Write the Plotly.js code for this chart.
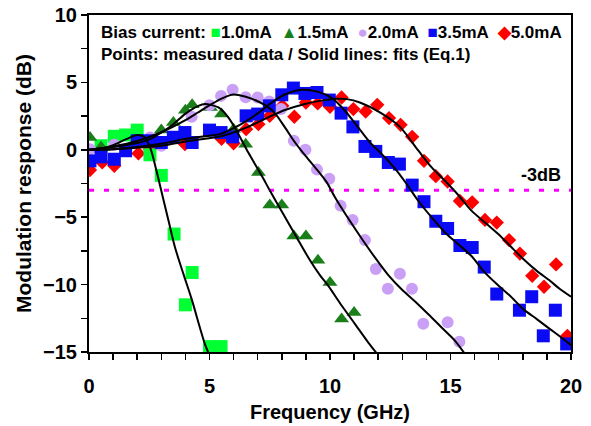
<!DOCTYPE html>
<html>
<head>
<meta charset="utf-8">
<script src="https://cdn.plot.ly/plotly-3.0.1.min.js"></script>
<style>html,body{margin:0;padding:0;background:#fff;}</style>
</head>
<body>
<div id="chart" style="width:591px;height:426px;"></div>
<script>
// ---- measured data (points) ----
const x10 = [0.5, 1.05, 1.52, 2.0, 2.53, 3.0, 3.53, 4.0, 4.28, 5.0, 5.48];
const y10 = [0.3, 1.0, 1.1, 1.46, -0.37, -1.9, -6.25, -11.5, -9.1, -14.6, -14.6];

const x15 = [0.04, 0.5, 3.0, 3.5, 4.0, 4.28, 5.04, 5.5, 6.0, 6.5, 7.03, 7.5, 8.0, 8.5, 9.0, 9.5, 10.0, 10.48, 11.0];
const y15 = [0.91, 0.2, 1.46, 2.03, 2.94, 3.34, 3.14, 2.65, 1.53, 0.42, -1.68, -4.1, -4.1, -6.4, -6.4, -8.2, -9.84, -12.56, -12.07];

const x20 = [0.04, 1.05, 2.53, 3.0, 4.26, 5.0, 5.48, 5.96, 6.5, 7.0, 7.48, 7.97, 8.5, 8.98, 9.46, 9.97, 10.44, 10.94, 11.45, 11.9, 12.4, 12.9, 13.4, 13.87, 14.88, 15.37];
const y20 = [0.05, 0.37, 0.91, 0.3, 2.45, 3.3, 4.0, 4.45, 3.9, 3.88, 3.58, 3.02, 0.67, 0.0, -1.47, -2.15, -4.15, -5.2, -6.7, -8.85, -10.3, -9.2, -10.3, -12.9, -12.8, -14.24];

const x35 = [0.04, 0.5, 1.05, 1.52, 2.0, 2.5, 3.0, 3.5, 3.98, 4.28, 5.0, 5.48, 5.96, 6.52, 7.0, 7.48, 8.0, 8.48, 8.96, 9.46, 9.97, 10.46, 10.95, 11.45, 11.9, 12.42, 12.88, 13.41, 13.9, 14.39, 14.88, 15.39, 15.9, 16.4, 16.92, 17.86, 18.37, 18.85, 19.35, 19.82];
const y35 = [-0.82, -0.52, -0.7, -0.07, 0.67, 0.67, 0.54, 0.93, 1.28, 0.54, 1.46, 1.28, 0.96, 2.52, 2.65, 3.26, 4.08, 4.58, 4.18, 4.25, 3.69, 2.72, 1.7, 0.25, -0.12, -0.94, -1.06, -2.62, -3.85, -5.3, -5.84, -7.1, -7.25, -8.7, -10.7, -11.9, -10.9, -13.8, -11.9, -14.4];

const x50 = [0.04, 0.55, 1.05, 2.05, 2.53, 3.98, 5.5, 6.0, 6.52, 7.03, 7.5, 8.02, 8.52, 9.0, 9.49, 10.0, 10.48, 10.97, 11.48, 11.96, 12.45, 12.93, 13.41, 13.9, 14.39, 14.88, 15.39, 15.9, 16.43, 16.92, 17.43, 17.88, 18.39, 18.88, 19.38, 19.85];
const y50 = [-1.5, -0.94, -1.19, -0.27, 0.05, 0.42, 0.82, 0.48, 1.53, 1.9, 2.52, 3.26, 2.45, 3.51, 3.44, 3.19, 3.88, 3.02, 2.84, 3.34, 2.35, 1.85, 0.96, -0.82, -1.96, -2.35, -3.8, -3.9, -5.2, -5.4, -6.7, -7.7, -9.35, -10.16, -8.5, -13.8];

// ---- fit curves ----
const fx10 = [0, 0.5, 1.0, 1.5, 2.0, 2.3, 2.55, 2.8, 3.0, 3.3, 3.57, 3.92, 4.26, 4.6, 4.81, 4.95];
const fy10 = [0, 0.1, 0.35, 0.75, 1.1, 0.95, 0.1, -1.56, -3.04, -5.27, -7.25, -9.22, -11.08, -13.18, -14.41, -15.04];

const fx15 = [0, 1.0, 2.0, 2.53, 3.0, 3.5, 3.98, 4.54, 4.81, 5.37, 5.78, 6.2, 6.61, 7.17, 7.51, 8.06, 8.62, 9.17, 9.58, 9.93, 10.49, 11.04, 11.59, 11.94];
const fy15 = [0, 0.2, 0.5, 0.79, 1.28, 1.9, 2.65, 3.26, 3.39, 3.14, 2.4, 1.16, -0.2, -1.93, -3.04, -4.77, -6.5, -8.2, -9.3, -10.1, -11.57, -12.93, -14.3, -15.1];

const fx20 = [0, 1.0, 2.0, 3.0, 4.0, 4.5, 5.0, 5.5, 6.0, 6.47, 7.0, 7.4, 7.72, 8.13, 8.55, 8.96, 9.38, 9.86, 10.2, 10.76, 11.32, 11.87, 12.42, 12.97, 13.53, 14.08, 14.63, 15.19, 15.6];
const fy20 = [0, 0.25, 0.65, 1.3, 2.2, 2.75, 3.3, 3.8, 4.1, 3.95, 3.6, 3.2, 2.7, 1.66, 0.54, -0.4, -1.3, -2.4, -3.5, -5.1, -6.6, -8.0, -9.3, -10.35, -11.25, -12.2, -13.18, -14.17, -15.15];

const fx35 = [0, 1, 2, 3, 4, 5, 5.43, 6.0, 6.54, 7.0, 7.5, 8.13, 8.82, 9.51, 10.07, 10.62, 11.17, 11.66, 12.15, 12.7, 13.18, 13.66, 14.22, 14.77, 15.32, 15.88, 16.36, 16.92, 17.47, 18.02, 18.58, 19.13, 19.68, 20];
const fy35 = [0, 0.05, 0.2, 0.45, 0.8, 1.05, 1.16, 1.6, 2.15, 2.7, 3.4, 4.1, 4.45, 4.3, 3.85, 2.9, 1.66, 0.54, -0.32, -1.4, -2.54, -3.78, -5.02, -6.13, -7.0, -7.9, -8.98, -9.96, -10.83, -11.82, -12.56, -13.3, -14.04, -14.5];

const fx50 = [0, 1, 2, 3, 4.19, 5.57, 6.54, 7.3, 8.13, 8.96, 9.58, 10.3, 10.7, 11.24, 12.07, 12.9, 13.66, 14.22, 14.77, 15.32, 15.88, 16.43, 16.98, 17.47, 18.02, 18.58, 19.13, 19.54, 20];
const fy50 = [0, 0.05, 0.15, 0.3, 0.67, 1.04, 1.66, 2.3, 2.95, 3.4, 3.63, 3.78, 3.76, 3.51, 2.77, 1.7, -0.05, -1.31, -2.3, -3.35, -4.53, -5.39, -6.25, -7.12, -8.1, -8.98, -9.72, -10.33, -10.9];

// ---- reference line ----
const refX = [0, 20];
const refY = [-3, -3];

// ---- labels ----
const seriesNames = ["1.0mA", "1.5mA", "2.0mA", "3.5mA", "5.0mA"];
const seriesColors = ["#00FF33", "#1A7F1A", "#C9A0F5", "#0A0AF5", "#FF0000"];
const seriesGlyphs = ["\u25A0", "\u25B2", "\u25CF", "\u25A0", "\u25C6"];
const legendLead = "Bias current:";
const legendLine2 = "Points: measured data / Solid lines: fits (Eq.1)";
const refLabel = "-3dB";
const xTitle = "Frequency (GHz)";
const yTitle = "Modulation response (dB)";

const FONT = "Liberation Sans, Arial, Helvetica, sans-serif";

function pts(x, y, color, symbol, size) {
  return {x: x, y: y, type: "scatter", mode: "markers", showlegend: false,
    marker: {color: color, symbol: symbol, size: size, line: {width: 0}}, hoverinfo: "skip"};
}
function fit(x, y) {
  return {x: x, y: y, type: "scatter", mode: "lines", showlegend: false,
    line: {color: "#000000", width: 2, shape: "spline", smoothing: 0.8}, hoverinfo: "skip"};
}

const data = [
  {x: refX, y: refY, type: "scatter", mode: "lines", showlegend: false,
   line: {color: "#FF00FF", width: 3, dash: "5px,10px"}, hoverinfo: "skip"},
  pts(x50, y50, seriesColors[4], "diamond", 11),
  pts(x10, y10, seriesColors[0], "square", 13),
  pts(x15, y15, seriesColors[1], "triangle-up", 13),
  pts(x20, y20, seriesColors[2], "circle", 12),
  pts(x35, y35, seriesColors[3], "square", 13),
  fit(fx10, fy10), fit(fx15, fy15), fit(fx20, fy20), fit(fx35, fy35), fit(fx50, fy50)
];

let line1 = legendLead;
for (let i = 0; i < seriesNames.length; i++) {
  line1 += (i === 0 ? " " : "  ") + '<span style="color:' + seriesColors[i] + '">' + seriesGlyphs[i] + '</span>' + seriesNames[i];
}

const layout = {
  width: 591, height: 426,
  margin: {l: 89, r: 20, t: 15, b: 74, pad: 0},
  paper_bgcolor: "#ffffff", plot_bgcolor: "#ffffff",
  font: {family: FONT, color: "#000000"},
  xaxis: {
    range: [0, 20], tick0: 0, dtick: 5, ticks: "outside", ticklen: 6, tickwidth: 1.5, tickcolor: "#000",
    showline: true, linecolor: "#000", linewidth: 2, mirror: true, showgrid: false, zeroline: false,
    tickfont: {family: FONT, size: 20, weight: "bold"}, ticklabelstandoff: 9,
    minor: {dtick: 1, ticks: "outside", ticklen: 6, tickwidth: 1.5, tickcolor: "#000", showgrid: false},
    title: {text: xTitle, font: {family: FONT, size: 20, weight: "bold"}, standoff: 9}
  },
  yaxis: {
    range: [-15, 10], tick0: 0, dtick: 5, ticks: "outside", ticklen: 6, tickwidth: 1.5, tickcolor: "#000",
    showline: true, linecolor: "#000", linewidth: 2, mirror: true, showgrid: false, zeroline: false,
    tickfont: {family: FONT, size: 20, weight: "bold"},
    minor: {dtick: 2.5, ticks: "outside", ticklen: 6, tickwidth: 1.5, tickcolor: "#000", showgrid: false},
    title: {text: yTitle, font: {family: FONT, size: 21, weight: "bold"}, standoff: 6}
  },
  annotations: [
    {xref: "paper", yref: "paper", x: 0.02, y: 0.983, xanchor: "left", yanchor: "top", align: "left",
     showarrow: false, text: line1 + "<br>" + legendLine2,
     font: {family: FONT, size: 17, weight: "bold", color: "#000"}},
    {xref: "x", yref: "y", x: 19.65, y: -1.85, xanchor: "right", yanchor: "middle", showarrow: false,
     text: refLabel, font: {family: FONT, size: 18, weight: "bold", color: "#000"}}
  ]
};

Plotly.newPlot("chart", data, layout, {staticPlot: true, displayModeBar: false});
</script>
</body>
</html>
